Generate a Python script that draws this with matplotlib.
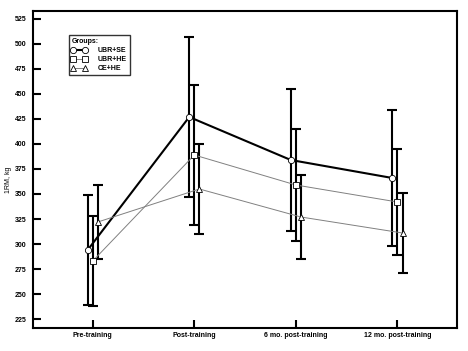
import numpy as np
import matplotlib
matplotlib.use('Agg')
import matplotlib.pyplot as plt

font = {'family': 'Liberation Sans',
        'weight': 'bold',
        'size': 5}
matplotlib.rc('font', **font)

phases = ['Pre-training', 'Post-training', '6 mo. post-training', '12 mo. post-training']
groups = ['UBR+SE', 'UBR+HE', 'CE+HE']

mean_ubr_se = [294, 427, 384, 366]
sd_ubr_se = [55, 80, 71, 68]
mean_ubr_he = [283, 389, 359, 342]
sd_ubr_he = [45, 70, 56, 53]
mean_ce_he = [322, 355, 327, 311]
sd_ce_he = [37, 45, 42, 40]

fig = plt.figure(figsize=(4.68, 3.51), dpi=100)
ax = fig.add_axes([0.0712, 0.0655, 0.905, 0.9032])

x = np.arange(len(phases))
series = [
    (mean_ubr_se, sd_ubr_se, -0.05, 'o', 'black', 1.5),
    (mean_ubr_he, sd_ubr_he, 0.0, 's', '#808080', 0.7),
    (mean_ce_he, sd_ce_he, 0.05, '^', '#808080', 0.7),
]

handles = []
for (m, s, off, mk, col, lw), name in zip(series, groups):
    ax.errorbar(x + off, m, yerr=s, fmt='none', ecolor='black',
                elinewidth=1.5, capsize=3.6, capthick=1.5, zorder=2)
    ax.plot(x + off, m, color=col, lw=lw, zorder=3)
    ax.plot(x + off, m, ls='none', marker=mk, ms=4.5, mfc='white',
            mec='black', mew=0.6, zorder=4)
    h, = ax.plot([], [], color=col, lw=lw, marker=mk, ms=4.5, mfc='white',
                 mec='black', mew=0.6)
    handles.append(h)

ax.set_xlim(-0.585, 3.585)
ax.set_ylim(216, 533)
ax.set_xticks(x)
ax.set_xticklabels(phases)
ax.set_yticks(np.arange(225, 526, 25))
ax.tick_params(axis='both', direction='in', width=1.5, length=5.5, pad=3)
ax.tick_params(axis='y', pad=5)
for sp in ax.spines.values():
    sp.set_linewidth(1.5)

ax.set_ylabel('1RM, kg', fontweight='normal', fontsize=5)
ax.yaxis.set_label_coords(-0.05, 0.467)

leg = ax.legend(handles, groups, title='Groups:', numpoints=2,
                loc='upper left', bbox_to_anchor=(0.075, 0.934),
                frameon=True, fancybox=False, edgecolor='black',
                handlelength=2.2, handletextpad=1.6, borderpad=0.4,
                labelspacing=0.3, fontsize=5)
leg.get_title().set_fontweight('bold')
leg.get_title().set_fontsize(5)
leg._legend_box.align = 'left'
leg.get_frame().set_linewidth(1.0)

plt.savefig('out.png', dpi=100)
